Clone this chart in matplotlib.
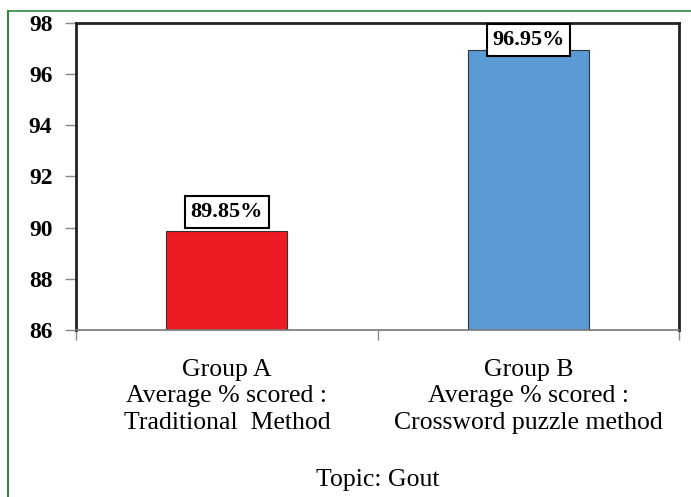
import matplotlib.pyplot as plt
from matplotlib.lines import Line2D

groups = ['Group A\nAverage % scored :\nTraditional  Method',
          'Group B\nAverage % scored :\nCrossword puzzle method']
scores = [89.85, 96.95]
bar_colors = ['#ED1C24', '#5B9BD5']
label_offsets = [14, 7]
yticks = [86, 88, 90, 92, 94, 96, 98]
topic = 'Topic: Gout'

plt.rcParams['font.family'] = 'Liberation Serif'

fig = plt.figure(figsize=(6.91, 4.97), dpi=100)
ax = fig.add_axes([0.110, 0.336, 0.873, 0.618])

pos = list(range(len(scores)))
ax.bar(pos, scores, width=0.4, color=bar_colors, edgecolor='#333333', linewidth=0.8)
ax.set_ylim(86, 98)
ax.set_xlim(-0.5, 1.5)
ax.set_yticks(yticks)
ax.set_yticklabels([str(t) for t in yticks], fontsize=17, fontweight='bold')
ax.tick_params(axis='y', direction='out', length=8, width=1, color='#888888', pad=9)

ax.set_xticks(pos)
ax.set_xticklabels(groups, fontsize=18.5, linespacing=1.25)
ax.set_xticks([-0.5, 0.5, 1.5], minor=True)
ax.tick_params(axis='x', which='major', length=0, pad=21)
ax.tick_params(axis='x', which='minor', direction='out', length=7, width=1, color='#888888')

for side in ['top', 'left', 'right']:
    ax.spines[side].set_linewidth(2)
    ax.spines[side].set_color('#222222')
ax.spines['bottom'].set_color('#777777')
ax.spines['bottom'].set_linewidth(1.2)

# value labels in boxes above the bars
for x, v, off in zip(pos, scores, label_offsets):
    ax.annotate('%.2f%%' % v, xy=(x, v), xytext=(0, off), textcoords='offset points',
                ha='center', va='center', fontsize=16, fontweight='bold',
                bbox=dict(boxstyle='square,pad=0.25', fc='white', ec='black', lw=1.5),
                annotation_clip=False)

fig.text(0.547, 0.034, topic, ha='center', va='center', fontsize=18.5)

# green frame around the figure
green = '#2E8B3E'
fig.add_artist(Line2D([8 / 691, 1.0], [1 - 11 / 497, 1 - 11 / 497], color=green, lw=1.2))
fig.add_artist(Line2D([8 / 691, 8 / 691], [0, 1 - 11 / 497], color=green, lw=1.5))

fig.savefig('out.png', dpi=100)
